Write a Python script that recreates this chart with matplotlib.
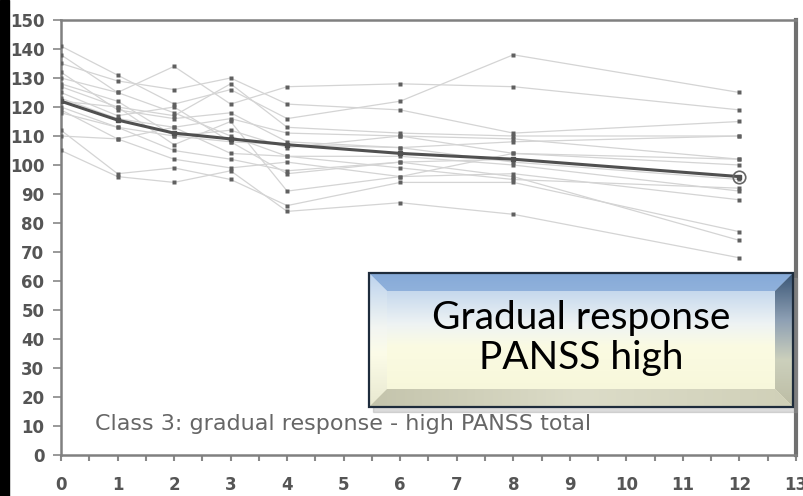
import numpy as np
import matplotlib
matplotlib.use("Agg")
import matplotlib.pyplot as plt
from matplotlib.patches import Rectangle, Polygon

# weeks of follow-up
weeks = [0, 1, 2, 3, 4, 6, 8, 12]

# individual PANSS trajectories
patients = [
    [141, 131, 121, 126, 116, 122, 138, 125],
    [130, 125, 134, 121, 127, 128, 127, 119],
    [135, 129, 126, 130, 121, 119, 111, 115],
    [127, 120, 117, 128, 113, 111, 110, 110],
    [123, 116, 113, 116, 111, 110, 104, 102],
    [120, 113, 110, 108, 107, 106, 101, 95],
    [119, 109, 113, 104, 103, 103, 100, 91],
    [110, 109, 102, 99, 101, 96, 97, 88],
    [112, 97, 99, 95, 86, 94, 94, 77],
    [105, 96, 94, 98, 84, 87, 83, 68],
    [125, 117, 120, 108, 97, 101, 96, 74],
    [128, 122, 110, 112, 106, 110, 109, 102],
    [118, 113, 105, 102, 98, 101, 102, 96],
    [132, 119, 116, 118, 108, 106, 108, 110],
    [122, 120, 107, 115, 91, 96, 104, 100],
    [138, 125, 118, 110, 103, 99, 95, 92],
]
# class mean
mean_panss = [122, 115.5, 111, 109, 107, 104, 102, 96]

yticks = list(range(0, 151, 10))
xticks = list(range(0, 14))
note = "Class 3: gradual response - high PANSS total"
box_text = "Gradual response\nPANSS high"

W, H = 804, 496
fig = plt.figure(figsize=(W / 100, H / 100), dpi=100)
fig.patch.set_facecolor("white")
fig.patches.append(Rectangle((0, 0), 9 / W, 1, transform=fig.transFigure,
                             color="black", zorder=5))

ax = fig.add_axes([61 / W, 41 / H, 735 / W, 435 / H])
for p in patients:
    ax.plot(weeks, p, color="#d4d4d4", lw=0.9, zorder=2)
    ax.plot(weeks, p, ls="none", marker="s", ms=2.5, color="#606060",
            mec="none", zorder=3)
ax.plot(weeks, mean_panss, color="#505050", lw=2.2, marker="s", ms=3,
        zorder=4)
ax.plot(weeks[-1], mean_panss[-1], marker="o", ms=9, mfc="none",
        mec="#666666", mew=1.2, zorder=4)

ax.set_xlim(0, 13)
ax.set_ylim(0, 150)
ax.set_yticks(yticks)
ax.set_xticks(xticks)
ax.set_xticks(np.arange(0.5, 13, 1), minor=True)
ax.tick_params(axis="y", direction="out", length=6, width=1.2, color="#888888",
               labelsize=12, labelcolor="#555555", pad=6)
ax.tick_params(axis="x", which="both", direction="out", length=4, width=1.5,
               color="#888888", labelsize=12, labelcolor="#555555", pad=11)
for lab in ax.get_xticklabels() + ax.get_yticklabels():
    lab.set_fontweight("bold")
for side in ["left", "bottom", "top"]:
    ax.spines[side].set_color("#808080")
    ax.spines[side].set_linewidth(1.8)
ax.spines["right"].set_color("#707070")
ax.spines["right"].set_linewidth(3)

# overlay in pixel space for the note and the bevelled callout box
ov = fig.add_axes([0, 0, 1, 1], zorder=10)
ov.set_xlim(0, W)
ov.set_ylim(H, 0)
ov.axis("off")
ov.patch.set_alpha(0)

ov.text(95, 424, note, fontsize=16, color="#666666", va="center", ha="left")

x0, y0, x1, y1 = 369, 273, 793, 407
b = 18


def grad_fill(poly, colors, stops, vertical=True):
    cmap = matplotlib.colors.LinearSegmentedColormap.from_list(
        "g", list(zip(stops, colors)))
    g = np.linspace(0, 1, 256)
    img = g[:, None] if vertical else g[None, :]
    patch = Polygon(poly, closed=True, facecolor="none", edgecolor="none")
    ov.add_patch(patch)
    im = ov.imshow(img, cmap=cmap, extent=(x0, x1, y1, y0), aspect="auto",
                   origin="upper", zorder=11)
    im.set_clip_path(patch)


ov.add_patch(Rectangle((x0 + 4, y0 + 5), x1 - x0, y1 - y0, color="#999999",
                       alpha=0.35, zorder=10))
outer = [(x0, y0), (x1, y0), (x1, y1), (x0, y1)]
grad_fill(outer, ["#b0cae9", "#eef3f4", "#fbfbe2", "#f6f6d8"],
          [0, 0.38, 0.55, 1])
grad_fill([(x0, y0), (x1, y0), (x1 - b, y0 + b), (x0 + b, y0 + b)],
          ["#86aad8", "#cfe0f2"], [0, 1])
grad_fill([(x0, y0), (x0 + b, y0 + b), (x0 + b, y1 - b), (x0, y1)],
          ["#bcd3ee", "#f2f5f2", "#fcfce8", "#e8e8d0"], [0, 0.4, 0.6, 1])
grad_fill([(x1, y0), (x1, y1), (x1 - b, y1 - b), (x1 - b, y0 + b)],
          ["#3a5676", "#8ea0b4", "#ccd0bc", "#bcbca4"], [0, 0.35, 0.65, 1])
grad_fill([(x0, y1), (x1, y1), (x1 - b, y1 - b), (x0 + b, y1 - b)],
          ["#c4c4ac", "#dcdcc8", "#d0d0b8"], [0, 0.5, 1], vertical=False)
ov.add_patch(Rectangle((x0, y0), x1 - x0, y1 - y0, fill=False,
                       edgecolor="#1e2c3c", lw=1.6, zorder=12))
ov.text((x0 + x1) / 2, 338, box_text, ha="center", va="center", fontsize=28,
        family="Lato", color="black", linespacing=1.15, zorder=13)

fig.savefig("out.png", dpi=100)
